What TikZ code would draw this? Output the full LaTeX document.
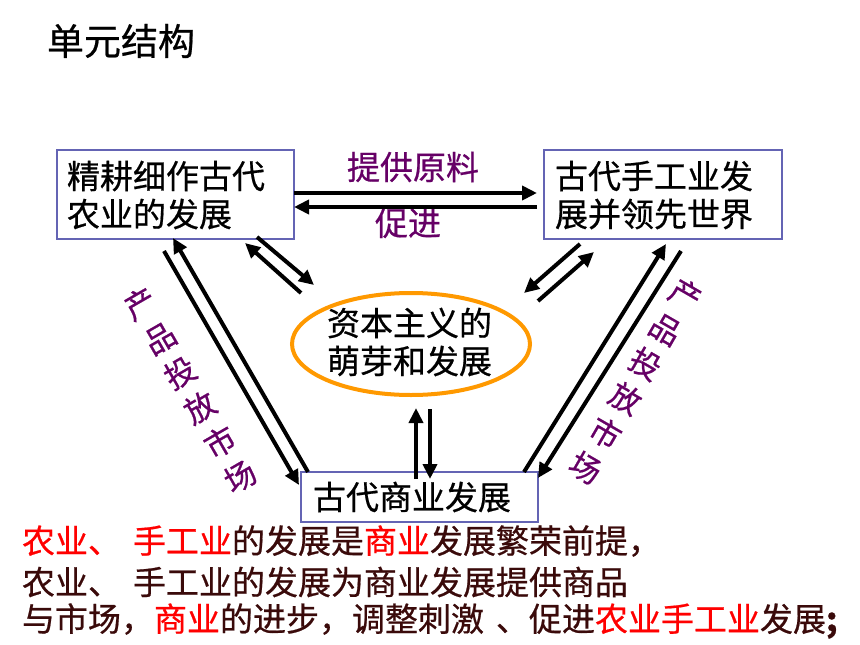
\documentclass[tikz,border=0pt]{standalone}
\usepackage{fontspec}
\newfontfamily\cjk{Noto Sans CJK SC}[FakeBold=0.6]
\usetikzlibrary{arrows.meta,shapes.geometric,calc}
\definecolor{boxblue}{HTML}{6464B4}
\definecolor{lblpurple}{HTML}{660066}
\definecolor{ellorange}{HTML}{FF9900}
\definecolor{darktext}{HTML}{3A0A0A}
\definecolor{hired}{HTML}{FF0000}
\begin{document}
\begin{tikzpicture}[x=1pt,y=-1pt,
  boxst/.style={draw=boxblue,line width=1.5pt,fill=white,inner sep=0pt,outer sep=0pt,rectangle},
  txt/.style={font=\cjk\fontsize{33}{38}\selectfont,inner sep=0pt,outer sep=0pt,anchor=west,align=left},
  lbl/.style={font=\cjk\fontsize{33}{38}\selectfont,text=lblpurple,inner sep=0pt,outer sep=0pt,anchor=west},
  side/.style={font=\cjk\fontsize{31}{40}\selectfont,text=lblpurple,inner sep=0pt,outer sep=0pt,align=center},
  arr/.style={line width=4pt,-{Triangle[length=15pt,width=14pt]}},
  note/.style={font=\cjk\fontsize{33}{38}\selectfont,text=darktext,inner sep=0pt,outer sep=0pt,anchor=west}
]
\useasboundingbox (0,0) rectangle (860,645);
\fill[white] (0,0) rectangle (860,645);

% title
\node[txt,font=\cjk\fontsize{37}{40}\selectfont] (title) at (47,41) {单元结构};

% boxes
\node[boxst,minimum width=237pt,minimum height=89pt] (A) at (175.5,194.5) {};
\node[boxst,minimum width=238pt,minimum height=89pt] (B) at (663,194.5) {};
\node[boxst,minimum width=237pt,minimum height=50pt] (C) at (419.5,497) {};
\node[draw=ellorange,line width=4pt,ellipse,minimum width=238pt,minimum height=102pt,inner sep=0pt,outer sep=0pt] (E) at (411,344) {};

\node[txt] (At) at (67,195) {精耕细作古代\\农业的发展};
\node[txt] (Bt) at (555,195) {古代手工业发\\展并领先世界};
\node[txt] (Ct) at (313,497) {古代商业发展};
\node[txt] (Et) at (327,342) {资本主义的\\萌芽和发展};

% labels
\node[lbl] (l1) at (347,167) {提供原料};
\node[lbl] (l2) at (375,223) {促进};
\node[side,rotate=30] (sl) at (190,390) {产\\品\\投\\放\\市\\场};
\node[side,rotate=-30] (sr) at (635.5,381) {产\\品\\投\\放\\市\\场};

% horizontal arrows
\draw[arr] ($(A.east)+(0,-1.5)$) -- ($(B.west)+(-7,-1.5)$);
\draw[arr] ($(B.west)+(-7,12.5)$) -- ($(A.east)+(0,12.5)$);

% A <-> E
\draw[arr] ($(A.south east)+(-37,-2)$) -- ($(E.center)+(-97,-59)$);
\draw[arr] ($(E.center)+(-110,-51)$) -- ($(A.south east)+(-49,4)$);

% B <-> E
\draw[arr] ($(B.south west)+(36,5)$) -- ($(E.center)+(113,-51)$);
\draw[arr] ($(E.center)+(127,-43)$) -- ($(B.south west)+(50,13)$);

% A <-> C
\draw[arr] ($(A.south)+(-11.5,12)$) -- ($(C.north west)+(-2,13)$);
\draw[arr] ($(C.north west)+(7,0)$) -- ($(A.south)+(-2.5,-1)$);

% B <-> C
\draw[arr] ($(C.north east)+(-14,0)$) -- ($(B.south)+(3,5)$);
\draw[arr] ($(B.south)+(18,12)$) -- ($(C.north east)+(0,6)$);

% E <-> C
\draw[arr] ($(C.north)+(-3.5,7)$) -- ($(E.south)+(5,13)$);
\draw[arr] ($(E.south)+(19,14)$) -- ($(C.north)+(10.5,7)$);

% bottom notes
\node[note] (n1) at (22,541) {\textcolor{hired}{农业、\hspace{12pt}手工业}的发展是\textcolor{hired}{商业}发展繁荣前提，};
\node[note] (n2) at (22,582) {农业、\hspace{12pt}手工业的发展为商业发展提供商品};
\node[note] (n3) at (22,621) {与市场，\textcolor{hired}{商业}的进步，调整刺激\hspace{12pt}、促进\textcolor{hired}{农业手工业}发展\textbf{;}};
\end{tikzpicture}
\end{document}
